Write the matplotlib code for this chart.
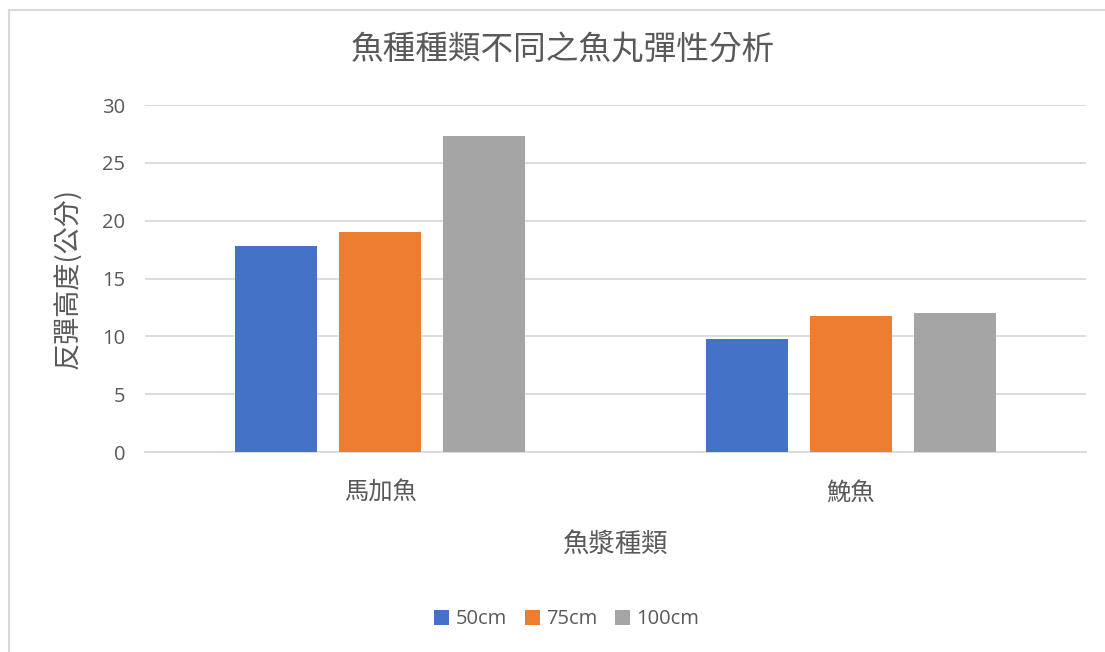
import matplotlib.pyplot as plt
from matplotlib.lines import Line2D
import numpy as np

plt.rcParams['font.family'] = ['Noto Sans CJK TC', 'DejaVu Sans']

categories = ['馬加魚', '鮸魚']
series_names = ['50cm', '75cm', '100cm']
series_values = [
    [17.8, 9.8],
    [19.0, 11.8],
    [27.3, 12.0],
]
colors = ['#4472c4', '#ed7d31', '#a5a5a5']
yticks = [0, 5, 10, 15, 20, 25, 30]

grey_text = '#595959'
grid_col = '#d9d9d9'

fig = plt.figure(figsize=(11.05, 6.52), dpi=100)
ax = fig.add_axes([0.131, 0.3067, 0.852, 0.532])

x = np.arange(len(categories))
step = 0.221
width = 0.174
for i, (name, vals) in enumerate(zip(series_names, series_values)):
    ax.bar(x + (i - 1) * step, vals, width=width, color=colors[i], label=name, zorder=3)

ax.set_xlim(-0.5, 1.5)
ax.set_ylim(0, 30)
ax.set_yticks(yticks)
ax.set_yticklabels([str(v) for v in yticks], fontsize=14.5, color=grey_text, family='Open Sans')
ax.set_xticks(x)
ax.set_xticklabels(categories, fontsize=17.5, color=grey_text)
ax.tick_params(axis='both', length=0)
ax.tick_params(axis='y', pad=14)
ax.tick_params(axis='x', pad=20)

ax.grid(axis='y', color=grid_col, linewidth=1.3, zorder=0)
for s in ['top', 'right', 'left']:
    ax.spines[s].set_visible(False)
ax.spines['bottom'].set_color(grid_col)
ax.spines['bottom'].set_linewidth(1.3)

ax.set_ylabel('反彈高度(公分)', fontsize=19.5, color=grey_text, labelpad=14)
ax.set_xlabel('魚漿種類', fontsize=19, color=grey_text, labelpad=18)

fig.text(0.509, 0.923, '魚種種類不同之魚丸彈性分析', fontsize=23.5, color=grey_text,
         ha='center', va='center', fontweight='light')

leg = fig.legend(loc='center', bbox_to_anchor=(0.513, 0.05), ncol=3, frameon=False,
                 handlelength=0.75, handleheight=0.75, handletextpad=0.3, columnspacing=0.9,
                 prop={'family': 'Open Sans', 'size': 14.5})
for t in leg.get_texts():
    t.set_color(grey_text)

# chart area outline (left and top edges)
fig.add_artist(Line2D([0.0081, 0.0081], [0.0, 0.985], transform=fig.transFigure,
                      color=grid_col, linewidth=1.5))
fig.add_artist(Line2D([0.0081, 1.0], [0.985, 0.985], transform=fig.transFigure,
                      color=grid_col, linewidth=1.5))

fig.savefig('out.png', dpi=100)
